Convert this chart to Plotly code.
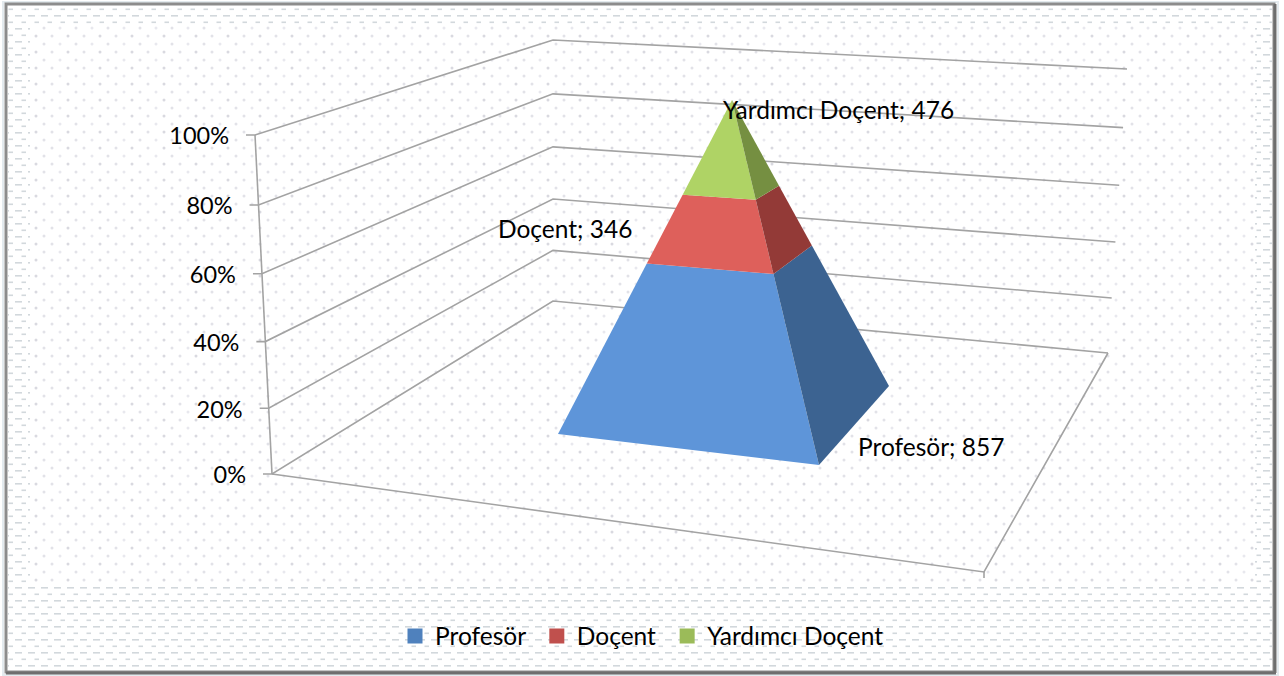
import base64
import plotly.graph_objects as go

# ---- data ----
categories = ["Profesör", "Doçent", "Yardımcı Doçent"]
values = [857, 346, 476]
tick_values = [0, 20, 40, 60, 80, 100]
tick_labels = ["0%", "20%", "40%", "60%", "80%", "100%"]

front_colors = ["#5E95D9", "#DE605B", "#AFD365"]
side_colors = ["#3C6391", "#933A37", "#758F41"]
legend_colors = ["#4F81BD", "#C0504D", "#9BBB59"]

# ---- the projected 3-D box (screen space) ----
W, H = 1284, 676
FS = 24.5
FL0, FL1 = (272, 474), (255, 135)     # front-left corner, bottom and top
BL0, BL1 = (553, 301), (553, 40)      # back-left corner
BR0, BR1 = (1108, 353), (1127, 69)    # back-right corner
FR0 = (984, 572)                      # front-right floor corner
# pyramid: (screen corner, perspective weight)
P_LEFT = ((558, 434), 1.0)
P_MID = ((819, 465), 0.95)
P_RIGHT = ((889, 386), 1.08)
APEX = (732, 100)


def lerp(a, b, t):
    return (a[0] + (b[0] - a[0]) * t, a[1] + (b[1] - a[1]) * t)


def axis_frac(pct):
    f = pct / 100
    return f / (f + (1 - f) * 1.04)


def on_edge(corner, f):
    base, w = corner
    den = (1 - f) * w + f
    return ((1 - f) * w * base[0] / den + f * APEX[0] / den,
            (1 - f) * w * base[1] / den + f * APEX[1] / den)


fig = go.Figure()

# gridlines, left wall + back wall, through the value scale
grid_x, grid_y = [], []
for t in tick_values:
    f = axis_frac(t)
    a, b, c = lerp(FL0, FL1, f), lerp(BL0, BL1, f), lerp(BR0, BR1, f)
    grid_x += [a[0] - 9, a[0], b[0], c[0], None]
    grid_y += [a[1], a[1], b[1], c[1], None]
# floor edges and axis
grid_x += [FL0[0], FR0[0], BR0[0], None, FL0[0], FL1[0], None, FR0[0], FR0[0]]
grid_y += [FL0[1], FR0[1], BR0[1], None, FL0[1], FL1[1], None, FR0[1], FR0[1] + 6]
fig.add_trace(go.Scatter(x=grid_x, y=grid_y, mode="lines", showlegend=False, hoverinfo="skip",
                         line=dict(color="#A3A3A3", width=1.6)))

# pyramid layers from cumulative shares
total = sum(values)
cum = 0
for name, v, fc, sc in zip(categories, values, front_colors, side_colors):
    f0, f1 = cum / total, (cum + v) / total
    cum += v
    for c1, c2, col in ((P_LEFT, P_MID, fc), (P_MID, P_RIGHT, sc)):
        pts = [on_edge(c1, f0), on_edge(c2, f0), on_edge(c2, f1), on_edge(c1, f1)]
        fig.add_trace(go.Scatter(x=[p[0] for p in pts], y=[p[1] for p in pts], mode="lines",
                                 fill="toself", fillcolor=col, line=dict(width=0),
                                 showlegend=False, hoverinfo="skip", name=name))

# value-axis labels
lab_x = [lerp(FL0, FL1, axis_frac(t))[0] - 26 for t in tick_values]
lab_y = [lerp(FL0, FL1, axis_frac(t))[1] + 3.5 for t in tick_values]
fig.add_trace(go.Scatter(x=lab_x, y=lab_y, mode="text", text=tick_labels, textposition="middle left",
                         textfont=dict(family="Lato", size=23.5, color="#000000"),
                         showlegend=False, hoverinfo="skip"))

# data labels
label_pos = [(858, 449.5), (498, 231.5), (723, 112.5)]
fig.add_trace(go.Scatter(x=[p[0] for p in label_pos], y=[p[1] for p in label_pos], mode="text",
                         text=[f"{c}; {v}" for c, v in zip(categories, values)],
                         textposition="middle right",
                         textfont=dict(family="Lato", size=FS, color="#000000"),
                         showlegend=False, hoverinfo="skip"))

# legend (a no-break space widens the gap between entries)
for name, col in zip(categories, legend_colors):
    fig.add_trace(go.Scatter(x=[None], y=[None], mode="markers", name=name + "\u00a0",
                             marker=dict(symbol="square", size=15, color=col)))

# paper texture
svg = f"""<svg xmlns='http://www.w3.org/2000/svg' width='{W}' height='{H}'>
<defs>
<filter id='b'><feGaussianBlur stdDeviation='0.7'/></filter>
<pattern id='dash' width='13' height='13' patternUnits='userSpaceOnUse'>
<rect x='2' y='2' width='7' height='1.6' fill='#D2D8DC'/><rect x='8.5' y='8.5' width='7' height='1.6' fill='#D2D8DC'/></pattern>
<pattern id='dots' width='32' height='16' patternUnits='userSpaceOnUse'>
<circle cx='4' cy='4' r='1.5' fill='#D9D9E0'/><circle cx='20' cy='4' r='1.5' fill='#E2E2E8'/>
<circle cx='12' cy='12' r='1.5' fill='#E2E2E8'/><circle cx='28' cy='12' r='1.5' fill='#E8E8EE'/></pattern>
</defs>
<rect width='{W}' height='{H}' fill='#FFFFFF'/>
<rect x='8' y='6' width='1264' height='664' fill='url(#dash)' filter='url(#b)'/>
<rect x='30' y='26' width='1225' height='559' fill='#FFFFFF'/>
<rect x='30' y='26' width='1225' height='559' fill='url(#dots)' filter='url(#b)'/>
</svg>"""
src = "data:image/svg+xml;base64," + base64.b64encode(svg.encode()).decode()

fig.update_layout(
    width=W, height=H, margin=dict(l=0, r=0, t=0, b=0, pad=0),
    paper_bgcolor="#FFFFFF", plot_bgcolor="rgba(0,0,0,0)",
    xaxis=dict(range=[0, W], visible=False, fixedrange=True),
    yaxis=dict(range=[H, 0], visible=False, fixedrange=True),
    font=dict(family="Lato", size=FS, color="#000000"),
    legend=dict(orientation="h", x=(400 - 5) / W, xanchor="left", y=1 - 636 / H, yanchor="middle",
                bgcolor="rgba(0,0,0,0)", font=dict(family="Lato", size=FS, color="#000000"),
                itemwidth=30),
    images=[dict(source=src, xref="paper", yref="paper", x=0, y=1, sizex=1, sizey=1,
                 sizing="stretch", xanchor="left", yanchor="top", layer="below")],
    shapes=[
        dict(type="rect", xref="x", yref="y", x0=3, y0=2, x1=1278, y1=675,
             line=dict(color="#E3EAEE", width=2), layer="above"),
        dict(type="rect", xref="x", yref="y", x0=6, y0=4, x1=1274, y1=672,
             line=dict(color="#8C8C8C", width=3), layer="above"),
        dict(type="line", xref="x", yref="y", x0=1275, y0=4, x1=1275, y1=673,
             line=dict(color="#6E6E6E", width=3), layer="above"),
        dict(type="line", xref="x", yref="y", x0=6, y0=673, x1=1276, y1=673,
             line=dict(color="#6E6E6E", width=3), layer="above"),
    ],
)

fig.write_html("out.html", config={"displayModeBar": False},
               post_script="document.body.style.margin='0';document.body.style.overflow='hidden';")
